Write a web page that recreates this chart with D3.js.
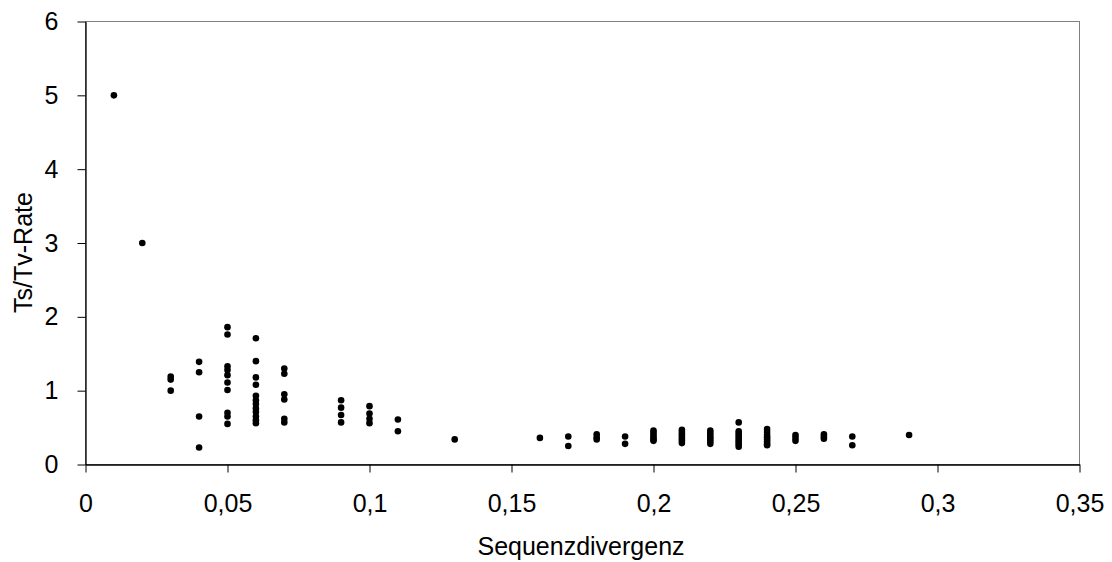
<!DOCTYPE html>
<html>
<head>
<meta charset="utf-8">
<script src="https://cdn.jsdelivr.net/npm/d3@7"></script>
<style>
  html, body { margin: 0; padding: 0; background: #fff; }
  svg { display: block; font-family: Arial, "Liberation Sans", sans-serif; }
</style>
</head>
<body>
<svg id="chart" width="1112" height="562"></svg>
<script>
// Data: sequence divergence (x) and Ts/Tv ratios observed at each
const divergence = [0.01, 0.02, 0.03, 0.04, 0.05, 0.06, 0.07, 0.09, 0.10, 0.11, 0.13, 0.16, 0.17, 0.18, 0.19, 0.20, 0.21, 0.22, 0.23, 0.24, 0.25, 0.26, 0.27, 0.29];
const tstvValues = [
  [5.0],
  [3.0],
  [1.19, 1.15, 1.0],
  [1.39, 1.25, 0.65, 0.23],
  [1.86, 1.76, 1.33, 1.28, 1.21, 1.11, 1.01, 0.70, 0.65, 0.55],
  [1.71, 1.40, 1.18, 1.08, 0.93, 0.87, 0.82, 0.76, 0.71, 0.65, 0.60, 0.56],
  [1.30, 1.23, 0.95, 0.88, 0.62, 0.57],
  [0.87, 0.77, 0.67, 0.57],
  [0.79, 0.69, 0.62, 0.56],
  [0.61, 0.45],
  [0.34],
  [0.36],
  [0.38, 0.25],
  [0.41, 0.37, 0.34],
  [0.38, 0.28],
  [0.46, 0.43, 0.40, 0.37, 0.34, 0.32],
  [0.47, 0.44, 0.41, 0.38, 0.35, 0.32, 0.29],
  [0.46, 0.43, 0.40, 0.37, 0.34, 0.31, 0.28],
  [0.57, 0.45, 0.42, 0.39, 0.36, 0.33, 0.30, 0.27, 0.24],
  [0.48, 0.44, 0.40, 0.37, 0.34, 0.31, 0.28, 0.26],
  [0.40, 0.36, 0.32],
  [0.41, 0.38, 0.35],
  [0.38, 0.26],
  [0.40]
];
const xTicks = [0, 0.05, 0.1, 0.15, 0.2, 0.25, 0.3, 0.35];
const yTicks = [0, 1, 2, 3, 4, 5, 6];
const xTitle = "Sequenzdivergenz";
const yTitle = "Ts/Tv-Rate";

const points = [];
divergence.forEach((d, i) => tstvValues[i].forEach(v => points.push({x: d, y: v})));

const svg = d3.select("#chart");
const pLeft = 85.5, pRight = 1079.5, pTop = 21.5, pBottom = 464.5;
const FS = 25;

const x = d3.scaleLinear().domain([0, 0.35]).range([pLeft, pRight]);
const y = d3.scaleLinear().domain([0, 6]).range([pBottom, pTop]);
const fmt = d => String(d).replace(".", ",");

// plot area border (top & right grey)
svg.append("rect")
  .attr("x", pLeft).attr("y", pTop)
  .attr("width", pRight - pLeft).attr("height", pBottom - pTop)
  .attr("fill", "none").attr("stroke", "#808080").attr("stroke-width", 1);

// x axis
const gx = svg.append("g").attr("transform", `translate(0,${pBottom})`)
  .call(d3.axisBottom(x).tickValues(xTicks).tickFormat(fmt).tickSize(8).tickSizeOuter(0).tickPadding(22));
gx.select(".domain").attr("stroke", "#000").attr("stroke-width", 1.3);
gx.selectAll(".tick line").attr("stroke", "#000");
gx.selectAll("text").attr("font-size", FS).attr("fill", "#000")
  .attr("font-family", "Arial, 'Liberation Sans', sans-serif");

// y axis
const gy = svg.append("g").attr("transform", `translate(${pLeft},0)`)
  .call(d3.axisLeft(y).tickValues(yTicks).tickFormat(fmt).tickSize(8).tickSizeOuter(0).tickPadding(19));
gy.select(".domain").attr("stroke", "#000").attr("stroke-width", 1.3);
gy.selectAll(".tick line").attr("stroke", "#000");
gy.selectAll("text").attr("font-size", FS).attr("fill", "#000")
  .attr("font-family", "Arial, 'Liberation Sans', sans-serif");

// points
svg.append("g").selectAll("circle").data(points).enter().append("circle")
  .attr("cx", d => x(d.x)).attr("cy", d => y(d.y)).attr("r", 3.3).attr("fill", "#000");

// titles
svg.append("text").attr("x", 581).attr("y", 555)
  .attr("text-anchor", "middle").attr("font-size", FS).attr("fill", "#000").text(xTitle);
svg.append("text").attr("transform", `translate(31.5,252.5) rotate(-90)`)
  .attr("text-anchor", "middle").attr("font-size", FS).attr("fill", "#000").text(yTitle);
</script>
</body>
</html>
